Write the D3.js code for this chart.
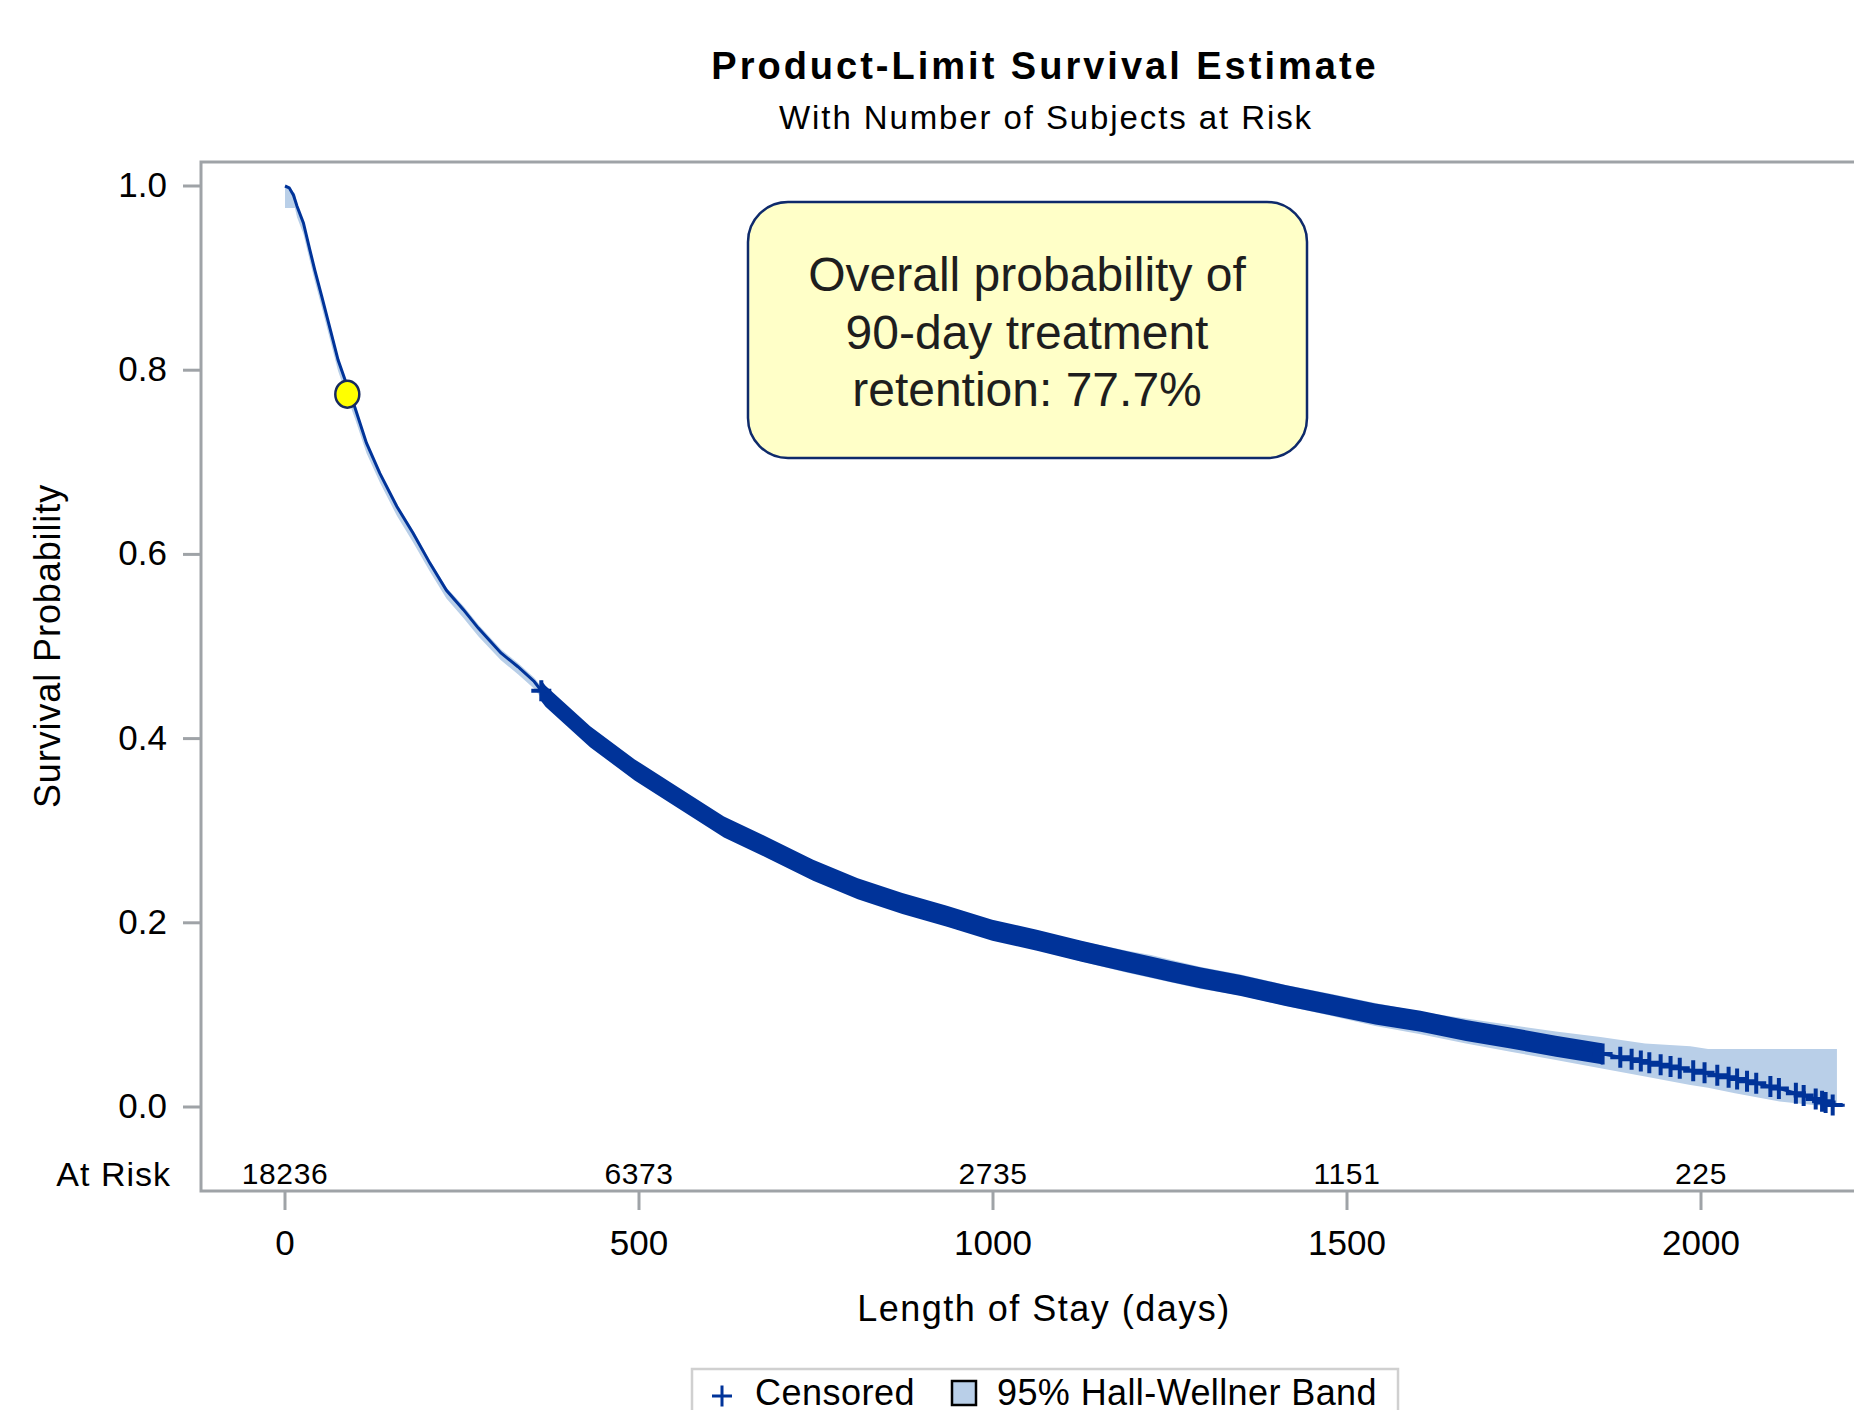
<!DOCTYPE html>
<html>
<head>
<meta charset="utf-8">
<script src="https://cdn.jsdelivr.net/npm/d3@7"></script>
<style>
  body { margin: 0; background: #fff; }
  svg { display: block; font-family: "Liberation Sans", Arial, sans-serif; }
</style>
</head>
<body>
<div id="chart"></div>
<script>
// Product-limit estimate (days -> survival)
var days = [0, 6, 12, 17, 26, 35, 42, 52, 64, 75, 85, 99, 115, 134, 158, 181, 205, 228, 252, 273,
  305, 329, 352, 368, 431, 494, 557, 620, 683, 746, 809, 872, 935, 999, 1062, 1125, 1188, 1223, 1251, 1294,
  1350, 1413, 1477, 1540, 1604, 1668, 1731, 1795, 1858, 1921, 1985, 2048, 2111, 2143, 2165, 2187, 2203];
var survival = [1.000, 0.998, 0.990, 0.978, 0.960, 0.931, 0.909, 0.880, 0.844, 0.811, 0.789, 0.759, 0.721, 0.688, 0.652, 0.623, 0.590, 0.561, 0.540, 0.520,
  0.493, 0.478, 0.462, 0.446, 0.402, 0.366, 0.335, 0.304, 0.281, 0.257, 0.237, 0.221, 0.207, 0.192, 0.181, 0.169, 0.158, 0.152, 0.147, 0.140,
  0.132, 0.121, 0.111, 0.101, 0.093, 0.083, 0.075, 0.066, 0.058, 0.049, 0.040, 0.031, 0.020, 0.013, 0.008, 0.002, 0.002];

// 95% Hall-Wellner band
var bandDays = [0, 14, 17, 26, 35, 42, 52, 64, 75, 85, 99, 115, 134, 158, 181, 205, 228, 252, 273, 305,
  329, 352, 368, 431, 494, 557, 620, 683, 746, 809, 872, 935, 999, 1062, 1125, 1188, 1223, 1294, 1350, 1413,
  1477, 1540, 1604, 1668, 1731, 1795, 1858, 1921, 1985, 2010, 2048, 2111, 2162, 2192];
var bandLower = [0.976, 0.976, 0.966, 0.948, 0.919, 0.897, 0.868, 0.832, 0.799, 0.777, 0.747, 0.710, 0.678, 0.642, 0.613, 0.581, 0.552, 0.531, 0.511, 0.485,
  0.470, 0.454, 0.438, 0.394, 0.358, 0.327, 0.296, 0.273, 0.249, 0.229, 0.212, 0.198, 0.183, 0.171, 0.158, 0.146, 0.140, 0.128, 0.121, 0.110,
  0.099, 0.088, 0.079, 0.069, 0.060, 0.051, 0.042, 0.033, 0.024, 0.021, 0.015, 0.006, 0.002, 0.000];
var bandUpper = [1.000, 0.992, 0.980, 0.962, 0.933, 0.911, 0.882, 0.846, 0.813, 0.791, 0.761, 0.723, 0.690, 0.654, 0.626, 0.593, 0.564, 0.544, 0.524, 0.497,
  0.482, 0.466, 0.451, 0.408, 0.372, 0.341, 0.311, 0.289, 0.265, 0.246, 0.230, 0.216, 0.202, 0.191, 0.180, 0.170, 0.165, 0.152, 0.144, 0.1325,
  0.123, 0.113, 0.1035, 0.096, 0.089, 0.082, 0.076, 0.069, 0.066, 0.063, 0.063, 0.063, 0.063, 0.063];

// Censored subjects: one solid run of overlapping marks, then single marks in the tail
var censorRuns = [[362, 1861]];
var censorDays = [1886, 1902, 1915, 1927, 1943, 1957, 1970, 1989, 2005, 2023, 2039, 2051, 2065, 2078,
  2098, 2110, 2134, 2145, 2162, 2171, 2176, 2186];

var xTicks = [0, 500, 1000, 1500, 2000];
var yTicks = [0, 0.2, 0.4, 0.6, 0.8, 1.0];
var atRisk = [18236, 6373, 2735, 1151, 225];

var retention = {day: 88, surv: 0.774};
var noteLines = ["Overall probability of", "90-day treatment", "retention: 77.7%"];

var blue = "#003399";
var bandColor = "#b9cfe8";
var axisColor = "#9fa3a7";

var width = 1854, height = 1410;
var frame = {left: 201, top: 162, bottom: 1191, right: 1900};

// Set the ranges
var x = d3.scaleLinear().domain([0, 2000]).range([285, 1701]);
var y = d3.scaleLinear().domain([0, 1]).range([1107, 186]);
var survAt = d3.scaleLinear().domain(days).range(survival);

var svg = d3.select("#chart")
  .append("svg")
    .attr("width", width)
    .attr("height", height);

// Titles
svg.append("text")
  .attr("x", 1045).attr("y", 79)
  .attr("text-anchor", "middle")
  .style("font-size", "38px").style("font-weight", "bold").style("letter-spacing", "3px")
  .text("Product-Limit Survival Estimate");
svg.append("text")
  .attr("x", 1046).attr("y", 129)
  .attr("text-anchor", "middle")
  .style("font-size", "33px").style("letter-spacing", "1.9px")
  .text("With Number of Subjects at Risk");

// Band
svg.append("path")
  .datum(bandDays.map(function(d, i) { return {day: d, lo: bandLower[i], hi: bandUpper[i]}; }))
  .attr("fill", bandColor)
  .attr("d", d3.area()
    .x(function(d) { return x(d.day); })
    .y0(function(d) { return y(d.lo); })
    .y1(function(d) { return y(d.hi); }));

// Survival curve
svg.append("path")
  .datum(days.map(function(d, i) { return {day: d, surv: survival[i]}; }))
  .attr("fill", "none")
  .attr("stroke", blue)
  .attr("stroke-width", 3)
  .attr("d", d3.line()
    .x(function(d) { return x(d.day); })
    .y(function(d) { return y(d.surv); }));

// Censored marks
var plus = "M-10,0H10M0,-10.5V10.5";
censorRuns.forEach(function(run) {
  var runDays = [run[0]].concat(days.filter(function(d) { return d > run[0] && d < run[1]; }), [run[1]]);
  svg.append("path")
    .datum(runDays)
    .attr("fill", blue)
    .attr("d", d3.area()
      .x(function(d) { return x(d); })
      .y0(function(d) { return y(survAt(d)) - 10.5; })
      .y1(function(d) { return y(survAt(d)) + 10.5; }));
  run.forEach(function(d) {
    svg.append("path")
      .attr("d", plus)
      .attr("transform", "translate(" + x(d) + "," + y(survAt(d)) + ")")
      .attr("stroke", blue).attr("stroke-width", 4).attr("fill", "none");
  });
});
svg.selectAll(".censor")
  .data(censorDays)
  .enter().append("path")
    .attr("class", "censor")
    .attr("d", plus)
    .attr("transform", function(d) { return "translate(" + x(d) + "," + y(survAt(d)) + ")"; })
    .attr("stroke", blue).attr("stroke-width", 4).attr("fill", "none");

// 90-day marker
svg.append("ellipse")
  .attr("cx", x(retention.day))
  .attr("cy", y(retention.surv))
  .attr("rx", 12).attr("ry", 13.5)
  .attr("fill", "#ffff00")
  .attr("stroke", "#172a5e")
  .attr("stroke-width", 2.5);

// Frame
svg.append("path")
  .attr("d", "M" + frame.right + "," + frame.top + "H" + frame.left + "V" + frame.bottom + "H" + frame.right)
  .attr("fill", "none")
  .attr("stroke", axisColor)
  .attr("stroke-width", 3);

// Y axis ticks
var yAxis = svg.append("g").attr("class", "y axis");
yAxis.selectAll("line")
  .data(yTicks)
  .enter().append("line")
    .attr("x1", 183).attr("x2", frame.left)
    .attr("y1", function(d) { return y(d); })
    .attr("y2", function(d) { return y(d); })
    .attr("stroke", axisColor).attr("stroke-width", 3);
yAxis.selectAll("text")
  .data(yTicks)
  .enter().append("text")
    .attr("x", 167)
    .attr("y", function(d) { return y(d) + 11; })
    .attr("text-anchor", "end")
    .style("font-size", "35px")
    .text(d3.format(".1f"));

// X axis ticks
var xAxis = svg.append("g").attr("class", "x axis");
xAxis.selectAll("line")
  .data(xTicks)
  .enter().append("line")
    .attr("x1", function(d) { return x(d); })
    .attr("x2", function(d) { return x(d); })
    .attr("y1", frame.bottom).attr("y2", 1210)
    .attr("stroke", axisColor).attr("stroke-width", 3);
xAxis.selectAll("text")
  .data(xTicks)
  .enter().append("text")
    .attr("x", function(d) { return x(d); })
    .attr("y", 1255)
    .attr("text-anchor", "middle")
    .style("font-size", "35px")
    .text(function(d) { return d; });

// At risk row
svg.append("text")
  .attr("x", 171).attr("y", 1186)
  .attr("text-anchor", "end")
  .style("font-size", "34px").style("letter-spacing", "1px")
  .text("At Risk");
svg.selectAll(".risk")
  .data(atRisk)
  .enter().append("text")
    .attr("class", "risk")
    .attr("x", function(d, i) { return x(xTicks[i]); })
    .attr("y", 1184)
    .attr("text-anchor", "middle")
    .style("font-size", "30px").style("letter-spacing", "0.6px")
    .text(function(d) { return d; });

// Axis labels
svg.append("text")
  .attr("x", 1044).attr("y", 1321)
  .attr("text-anchor", "middle")
  .style("font-size", "36px").style("letter-spacing", "1.5px")
  .text("Length of Stay (days)");
svg.append("text")
  .attr("transform", "translate(60,646) rotate(-90)")
  .attr("text-anchor", "middle")
  .style("font-size", "36px").style("letter-spacing", "0.9px")
  .text("Survival Probability");

// Note box
svg.append("rect")
  .attr("x", 748).attr("y", 202)
  .attr("width", 559).attr("height", 256)
  .attr("rx", 40).attr("ry", 40)
  .attr("fill", "#ffffc8")
  .attr("stroke", "#0e2a6b")
  .attr("stroke-width", 2.5);
svg.selectAll(".note")
  .data(noteLines)
  .enter().append("text")
    .attr("class", "note")
    .attr("x", 1027)
    .attr("y", function(d, i) { return 291 + i * 57.5; })
    .attr("text-anchor", "middle")
    .attr("fill", "#1e1e1e")
    .style("font-size", "48px")
    .text(function(d) { return d; });

// Legend
var legend = svg.append("g").attr("class", "legend");
legend.append("rect")
  .attr("x", 692).attr("y", 1369)
  .attr("width", 706).attr("height", 80)
  .attr("fill", "#fff")
  .attr("stroke", "#d0d0d0")
  .attr("stroke-width", 2.5);
legend.append("path")
  .attr("d", plus)
  .attr("transform", "translate(722,1396)")
  .attr("stroke", blue).attr("stroke-width", 3).attr("fill", "none");
legend.append("text")
  .attr("x", 755).attr("y", 1405)
  .style("font-size", "36px").style("letter-spacing", "0.5px")
  .text("Censored");
legend.append("rect")
  .attr("x", 952).attr("y", 1381)
  .attr("width", 24).attr("height", 24)
  .attr("fill", bandColor)
  .attr("stroke", "#000")
  .attr("stroke-width", 2.5);
legend.append("text")
  .attr("x", 997).attr("y", 1405)
  .style("font-size", "36px").style("letter-spacing", "0.4px")
  .text("95% Hall-Wellner Band");
</script>
</body>
</html>
